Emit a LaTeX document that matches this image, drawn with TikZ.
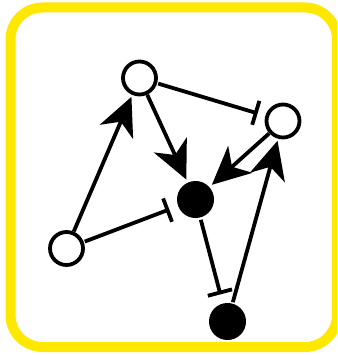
\documentclass[tikz,border=0pt]{standalone}
\usetikzlibrary{arrows.meta}
\definecolor{frameyellow}{RGB}{255,232,0}
\begin{document}
\begin{tikzpicture}[x=1pt,y=-1pt,
  open/.style={circle,draw=black,fill=white,line width=3.8pt,minimum size=33pt,inner sep=0pt,outer sep=0pt},
  full/.style={circle,draw=black,fill=black,line width=1pt,minimum size=36pt,inner sep=0pt,outer sep=0pt},
  act/.style={line width=3.8pt,-{Stealth[length=38pt,width=36pt,inset=11pt]},shorten <=2pt,shorten >=4pt},
  inh/.style={line width=3.8pt,-{Bar[width=25pt,line width=3.8pt]},shorten <=3pt,shorten >=10pt}]
\useasboundingbox (0,0) rectangle (337,355);
\clip (0,0) rectangle (337,355);
\draw[frameyellow,line width=10pt,rounded corners=32pt] (10.5,7.5) rectangle (337,347);
\node[open] (A) at (139.5,78) {};
\node[open] (B) at (283,121) {};
\node[open] (C) at (66.5,248.5) {};
\node[full] (D) at (195.5,199.5) {};
\node[full] (E) at (227.5,321.5) {};
\draw[act] (C) -- (A);
\draw[act] (A) -- (D);
\draw[act] (B) -- (D);
\draw[act] (E) -- (B);
\draw[inh] (A) -- (B);
\draw[inh] (C) -- (D);
\draw[inh] (D) -- (E);
\end{tikzpicture}
\end{document}
